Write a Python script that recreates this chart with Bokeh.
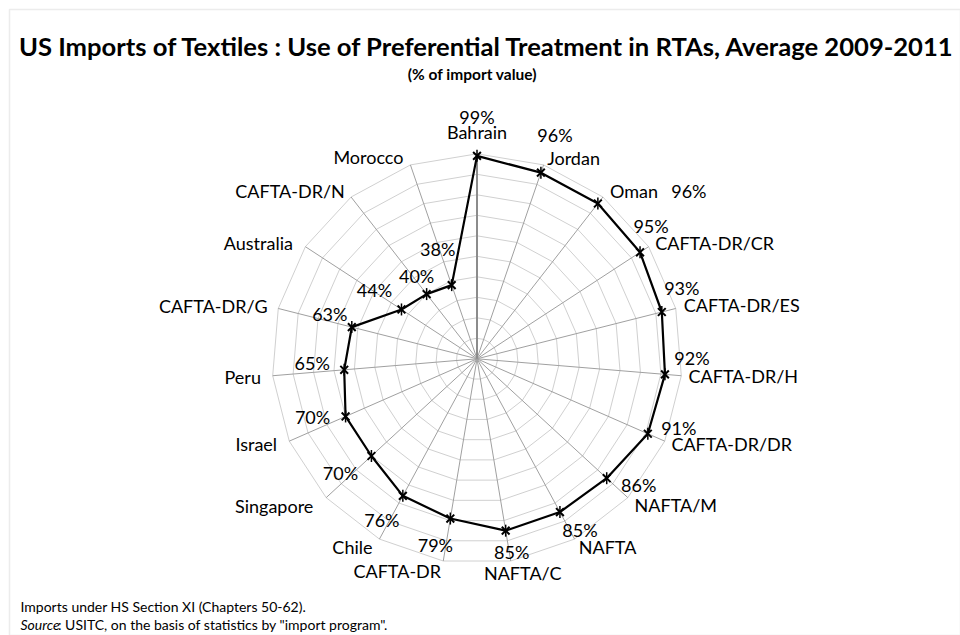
import math
from bokeh.plotting import figure
from bokeh.models import Range1d, BoxAnnotation, ColumnDataSource
from bokeh.core.properties import value
from bokeh.embed import file_html
from bokeh.resources import INLINE

# ---------------- data ----------------
categories = ["Bahrain", "Jordan", "Oman", "CAFTA-DR/CR", "CAFTA-DR/ES", "CAFTA-DR/H",
              "CAFTA-DR/DR", "NAFTA/M", "NAFTA", "NAFTA/C", "CAFTA-DR", "Chile",
              "Singapore", "Israel", "Peru", "CAFTA-DR/G", "Australia", "CAFTA-DR/N", "Morocco"]
values = [99, 96, 96, 95, 93, 92, 91, 86, 85, 85, 79, 76, 70, 70, 65, 63, 44, 40, 38]
ring_levels = [10, 20, 30, 40, 50, 60, 70, 80, 90, 100]
axis_max = 100

title = "US Imports of Textiles : Use of Preferential Treatment in RTAs, Average 2009-2011"
subtitle = "(% of import value)"
note1 = "Imports under HS Section XI (Chapters 50-62)."
note2_italic = "Source"
note2_rest = ": USITC, on the basis of statistics by \"import program\"."

# ---------------- layout (pixels) ----------------
W, H = 960, 635
CX, CY = 476.5, 358.3      # centre of the radar in screen pixels
S = 2.05                   # pixels per percentage point

# label offsets in screen pixels (dx right, dy down) from the spoke end / the point
cat_off = [(0, -22), (30, -7), (31, -6), (66, -4), (66, -3), (62, 0), (67, 3), (48, 7),
           (33, 8), (12, 12), (-46, 10), (-27, 8), (-52, 8), (-33, 3), (-30, 1),
           (-65, -2), (-47, -4), (-61, -6), (-42, -8)]
val_off = [(0, -39), (14, -38), (91, -12), (11, -26), (20, -24), (27, -16), (31, -6),
           (32, 7), (20, 18), (6, 21), (-15, 26), (-21, 24), (-31, 17), (-33, 1),
           (-32, -7), (-22, -13), (-27, -19), (-10, -18), (-14, -36)]


def px(x, y):
    """screen pixel -> data coords"""
    return (x - CX) / S, (CY - y) / S


n = len(categories)
ang = [2 * math.pi * i / n for i in range(n)]


def polar(r, a):
    return r * math.sin(a), r * math.cos(a)


p = figure(width=W, height=H, output_backend="svg", toolbar_location=None,
           x_range=Range1d(-CX / S, (W - CX) / S), y_range=Range1d(-(H - CY) / S, CY / S),
           x_axis_type=None, y_axis_type=None, min_border=0)
p.grid.visible = False
p.outline_line_color = None
p.background_fill_color = "white"
p.border_fill_color = "white"

# chart-area border
bl, bt = px(9, 9)
p.add_layout(BoxAnnotation(left=bl, top=bt, fill_alpha=0, line_color="#c0c0c0", line_width=1.5))

# rings
ring_xs, ring_ys = [], []
for lv in ring_levels:
    pts = [polar(lv, a) for a in ang] + [polar(lv, ang[0])]
    ring_xs.append([q[0] for q in pts])
    ring_ys.append([q[1] for q in pts])
p.multi_line(ring_xs, ring_ys, line_color="#d0d0d0", line_width=1)

# spokes
sp_xs, sp_ys = [], []
for a in ang[1:]:
    ex, ey = polar(axis_max, a)
    sp_xs.append([0, ex])
    sp_ys.append([0, ey])
p.multi_line(sp_xs, sp_ys, line_color="#a0a0a0", line_width=1)
ex, ey = polar(axis_max, ang[0])
p.line([0, ex], [0, ey], line_color="#8c8c8c", line_width=2)

# data series
dx = [polar(v, a)[0] for v, a in zip(values, ang)]
dy = [polar(v, a)[1] for v, a in zip(values, ang)]
src = ColumnDataSource(dict(x=dx, y=dy, v=values, c=categories))
p.line(dx + [dx[0]], dy + [dy[0]], line_color="black", line_width=2.2)
p.scatter("x", "y", source=src, marker="x", size=11, line_color="black", line_width=2)
p.scatter("x", "y", source=src, marker="dash", angle=math.pi / 2, size=12, line_color="black", line_width=1.5)

# labels
FONT = value("Lato")
cx_l, cy_l, vx_l, vy_l = [], [], [], []
for i, a in enumerate(ang):
    ox, oy = polar(axis_max, a)
    cx_l.append(ox + cat_off[i][0] / S)
    cy_l.append(oy - cat_off[i][1] / S)
    vx_l.append(dx[i] + val_off[i][0] / S)
    vy_l.append(dy[i] - val_off[i][1] / S)
p.text(cx_l, cy_l, text=categories, text_font=FONT, text_font_size="18px",
       text_align="center", text_baseline="middle", text_color="black")
p.text(vx_l, vy_l, text=[f"{v}%" for v in values], text_font=FONT, text_font_size="18px",
       text_align="center", text_baseline="middle", text_color="black")

# titles
tx, ty = px(487, 45)
p.text([tx], [ty], text=[title], text_font=FONT, text_font_size="25.6px", text_font_style="bold",
       text_align="center", text_baseline="middle", text_color="black")
tx, ty = px(472, 73)
p.text([tx], [ty], text=[subtitle], text_font=FONT, text_font_size="15.5px", text_font_style="bold",
       text_align="center", text_baseline="middle", text_color="black")

# notes
nx, ny = px(20, 606)
p.text([nx], [ny], text=[note1], text_font=FONT, text_font_size="14px",
       text_align="left", text_baseline="middle", text_color="black")
nx, ny = px(20, 624)
p.text([nx], [ny], text=[note2_italic], text_font=FONT, text_font_size="14px", text_font_style="italic",
       text_align="left", text_baseline="middle", text_color="black")
nx, ny = px(57.5, 624)
p.text([nx], [ny], text=[note2_rest], text_font=FONT, text_font_size="14px",
       text_align="left", text_baseline="middle", text_color="black")

open("out.html", "w").write(file_html(p, INLINE))
